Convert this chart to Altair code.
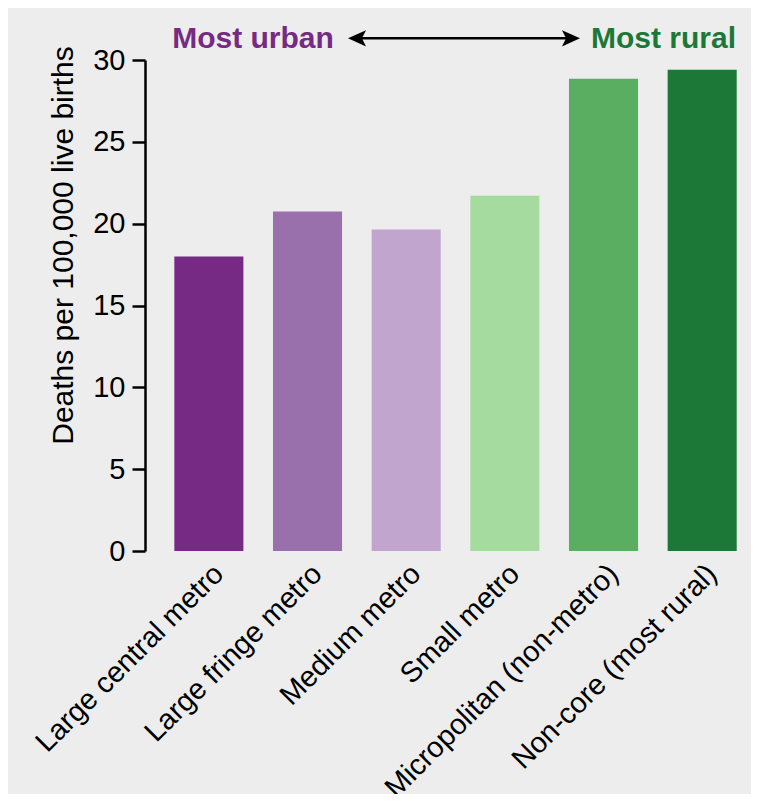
import altair as alt
import pandas as pd

categories = ["Large central metro", "Large fringe metro", "Medium metro",
              "Small metro", "Micropolitan (non-metro)", "Non-core (most rural)"]
deaths = [18.0, 20.75, 19.65, 21.7, 28.85, 29.4]
bar_colors = ["#762a83", "#9970ab", "#c2a5cf", "#a6dba0", "#5aae61", "#1b7837"]
y_ticks = [0, 5, 10, 15, 20, 25, 30]
annotation_left = ["Most urban"]
annotation_right = ["Most rural"]

FONT = "Liberation Sans"

df = pd.DataFrame({"category": categories, "deaths": deaths})

bars = alt.Chart(df).mark_bar().encode(
    x=alt.X("category:N", sort=categories,
            scale=alt.Scale(paddingInner=0.3, paddingOuter=0.216, align=0.688),
            axis=alt.Axis(title=None, labelAngle=-45, labelAlign="right",
                          labelBaseline="top", labelPadding=8, labelOffset=0,
                          ticks=False, domain=False, labelFontSize=29,
                          labelColor="black", labelFont=FONT, labelLimit=600)),
    y=alt.Y("deaths:Q", scale=alt.Scale(domain=[0, 30], nice=False),
            axis=alt.Axis(title="Deaths per 100,000 live births", values=y_ticks,
                          grid=False, domainColor="black", domainWidth=2.5,
                          tickColor="black", tickWidth=2.5, tickSize=13,
                          labelPadding=7, labelFontSize=29, labelColor="black",
                          labelFont=FONT, titleFont=FONT, titleFontSize=30,
                          titleFontWeight="normal", titleColor="black",
                          titlePadding=14, titleY=185)),
    color=alt.Color("category:N", sort=categories,
                    scale=alt.Scale(domain=categories, range=bar_colors),
                    legend=None),
)

left_df = pd.DataFrame({"t": annotation_left})
right_df = pd.DataFrame({"t": annotation_right})

ann_left = alt.Chart(left_df).mark_text(
    font=FONT, fontSize=30, fontWeight="bold", color="#762a83",
    align="center", baseline="alphabetic"
).encode(text="t:N", x=alt.value(108), y=alt.value(-11.7))

ann_right = alt.Chart(right_df).mark_text(
    font=FONT, fontSize=30, fontWeight="bold", color="#1b7837",
    align="center", baseline="alphabetic"
).encode(text="t:N", x=alt.value(518.5), y=alt.value(-11.7))

arrow_line = alt.Chart(left_df).mark_rule(color="black", strokeWidth=2.5).encode(
    x=alt.value(214), x2=alt.value(424), y=alt.value(-21.7))

head_left = alt.Chart(left_df).mark_point(
    shape="M-1,0L1,-0.9L0.55,0L1,0.9Z", filled=True, size=324,
    color="black", opacity=1, strokeWidth=0
).encode(x=alt.value(212), y=alt.value(-21.7))

head_right = alt.Chart(right_df).mark_point(
    shape="M1,0L-1,-0.9L-0.55,0L-1,0.9Z", filled=True, size=324,
    color="black", opacity=1, strokeWidth=0
).encode(x=alt.value(426), y=alt.value(-21.7))

chart = alt.layer(bars, arrow_line, head_left, head_right, ann_left, ann_right).properties(
    width=605, height=491,
    padding={"left": 137, "top": 52, "right": 1, "bottom": 243},
    autosize="none",
    background="#ededed",
).configure_view(stroke=None)

chart.save("out.html", embed_options={"renderer": "svg", "actions": False})
